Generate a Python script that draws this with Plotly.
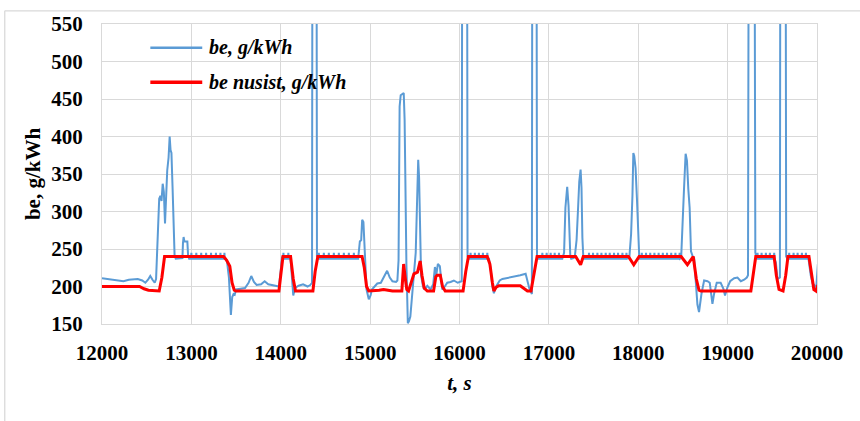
import plotly.graph_objects as go

# Specific fuel consumption over time: measured (be) and target (be nusist)
be_samples = [
    (12000, 211), (12050, 210), (12100, 210), (12150, 209), (12200, 208), (12240, 207),
    (12300, 209), (12350, 210), (12400, 210), (12450, 208), (12485, 205), (12515, 209),
    (12540, 214), (12565, 209), (12590, 205), (12605, 210),
    (12618, 245), (12630, 300), (12640, 317), (12653, 321), (12666, 314), (12679, 337),
    (12692, 326), (12705, 284), (12718, 322), (12730, 355), (12745, 372), (12757, 400),
    (12767, 382), (12777, 378), (12790, 330), (12800, 292), (12812, 242), (12825, 237),
    (12880, 237), (12900, 238), (12906, 258), (12913, 266), (12922, 260), (12955, 260),
    (12963, 242), (12975, 237),
    (12996, 237), (13000, 245), (13004, 237), (13051, 237), (13055, 245), (13059, 237),
    (13106, 237), (13110, 245), (13114, 237), (13161, 237), (13165, 245), (13169, 237),
    (13216, 237), (13220, 245), (13224, 237), (13271, 237), (13275, 245), (13279, 237),
    (13321, 237), (13325, 245), (13329, 237), (13366, 237), (13370, 245), (13374, 237),
    (13385, 237), (13400, 232), (13420, 212), (13442, 162), (13457, 186), (13472, 190),
    (13485, 189), (13500, 196), (13550, 197), (13600, 198), (13640, 205), (13670, 214),
    (13700, 206), (13730, 202), (13780, 203), (13820, 207), (13860, 203), (13900, 202),
    (13950, 201), (13980, 200), (14000, 222), (14015, 240),
    (14026, 237), (14030, 245), (14034, 237), (14081, 237), (14085, 245), (14089, 237),
    (14110, 237), (14125, 205), (14140, 188), (14160, 198), (14200, 201), (14250, 203),
    (14300, 200), (14330, 202), (14350, 205), (14362, 1600), (14392, 1600), (14405, 240),
    (14415, 237),
    (14422, 237), (14426, 245), (14430, 237), (14478, 237), (14482, 245), (14486, 237),
    (14534, 237), (14538, 245), (14542, 237), (14590, 237), (14594, 245), (14598, 237),
    (14646, 237), (14650, 245), (14654, 237), (14702, 237), (14706, 245), (14710, 237),
    (14758, 237), (14762, 245), (14766, 237), (14814, 237), (14818, 245), (14822, 237),
    (14866, 237), (14870, 245), (14874, 237),
    (14885, 260), (14900, 262), (14911, 289), (14925, 286), (14941, 240), (14960, 196),
    (14985, 183), (15005, 188), (15020, 196), (15050, 200), (15080, 204), (15120, 205),
    (15150, 212), (15190, 221), (15220, 212), (15250, 207), (15290, 206), (15305, 208),
    (15318, 235), (15330, 440), (15342, 455), (15360, 457), (15376, 458), (15386, 422),
    (15396, 320), (15406, 230), (15422, 151), (15435, 154), (15450, 160), (15465, 180),
    (15480, 203), (15495, 215), (15510, 245), (15520, 290), (15530, 345), (15538, 369),
    (15548, 345), (15558, 262), (15570, 215), (15590, 201), (15605, 196),
    (15640, 201), (15676, 196), (15706, 203), (15725, 226), (15740, 215), (15758, 230),
    (15780, 227), (15807, 196), (15830, 199), (15863, 205), (15900, 206), (15937, 208),
    (15980, 205), (16012, 207), (16025, 207), (16040, 1600), (16075, 1600), (16090, 240),
    (16100, 237),
    (16120, 237), (16124, 245), (16128, 237), (16168, 237), (16172, 245), (16176, 237),
    (16213, 237), (16217, 245), (16221, 237), (16258, 237), (16262, 245), (16266, 237),
    (16307, 237), (16311, 245), (16315, 237),
    (16330, 237), (16350, 222), (16368, 200), (16385, 191), (16400, 198), (16425, 204),
    (16450, 208), (16480, 210), (16530, 211), (16580, 213), (16630, 214), (16680, 215),
    (16740, 217), (16760, 205), (16780, 198), (16810, 190), (16822, 1600), (16852, 1600),
    (16867, 240), (16880, 237),
    (16923, 237), (16927, 245), (16931, 237), (16971, 237), (16975, 245), (16979, 237),
    (17016, 237), (17020, 245), (17024, 237), (17061, 237), (17065, 245), (17069, 237),
    (17109, 237), (17113, 245), (17117, 237),
    (17150, 237), (17170, 245), (17185, 305), (17205, 333), (17220, 308), (17240, 240),
    (17250, 237), (17280, 238), (17292, 242), (17310, 262), (17325, 300), (17340, 340),
    (17355, 356), (17365, 332), (17375, 265), (17385, 240), (17395, 237),
    (17445, 237), (17449, 245), (17453, 237), (17490, 237), (17494, 245), (17498, 237),
    (17539, 237), (17543, 245), (17547, 237), (17584, 237), (17588, 245), (17592, 237),
    (17632, 237), (17636, 245), (17640, 237), (17677, 237), (17681, 245), (17685, 237),
    (17725, 237), (17729, 245), (17733, 237), (17770, 237), (17774, 245), (17778, 237),
    (17819, 237), (17823, 245), (17827, 237), (17864, 237), (17868, 245), (17872, 237),
    (17900, 238), (17920, 270), (17935, 321), (17945, 378), (17955, 374), (17970, 358),
    (17985, 318), (18000, 258), (18012, 237),
    (18036, 237), (18040, 245), (18044, 237), (18083, 237), (18087, 245), (18091, 237),
    (18130, 237), (18134, 245), (18138, 237), (18177, 237), (18181, 245), (18185, 237),
    (18224, 237), (18228, 245), (18232, 237), (18271, 237), (18275, 245), (18279, 237),
    (18318, 237), (18322, 245), (18326, 237), (18365, 237), (18369, 245), (18373, 237),
    (18412, 237), (18416, 245), (18420, 237), (18459, 237), (18463, 245), (18467, 237),
    (18480, 238), (18495, 292), (18512, 330), (18530, 377), (18545, 368), (18560, 330),
    (18575, 305), (18590, 247), (18610, 240), (18625, 238), (18644, 207), (18662, 176),
    (18680, 166), (18707, 190), (18737, 208), (18775, 207), (18800, 205), (18830, 177),
    (18848, 190), (18878, 205), (18922, 205), (18953, 197), (18971, 188), (18998, 199),
    (19028, 207), (19073, 211), (19110, 212), (19148, 207), (19185, 209), (19215, 212),
    (19228, 215), (19250, 1600), (19285, 1600), (19310, 245), (19320, 240),
    (19331, 237), (19335, 245), (19339, 237), (19376, 237), (19380, 245), (19384, 237),
    (19424, 237), (19428, 245), (19432, 237), (19469, 237), (19473, 245), (19477, 237),
    (19517, 237), (19521, 245), (19525, 237),
    (19540, 232), (19558, 210), (19585, 212), (19598, 1600), (19638, 1600), (19655, 240),
    (19670, 237),
    (19685, 237), (19689, 245), (19693, 237), (19734, 237), (19738, 245), (19742, 237),
    (19779, 237), (19783, 245), (19787, 237), (19827, 237), (19831, 245), (19835, 237),
    (19872, 237), (19876, 245), (19880, 237),
    (19905, 237), (19930, 215), (19951, 204), (19975, 201), (19992, 199), (20010, 230),
]

nusist_samples = [
    (12000, 200), (12100, 200), (12200, 199), (12300, 199), (12360, 200), (12420, 200),
    (12470, 197), (12520, 195), (12640, 194), (12670, 212), (12700, 240), (13360, 240),
    (13395, 235), (13430, 227), (13455, 205), (13480, 195), (13500, 194), (13980, 194),
    (14000, 215), (14025, 240), (14110, 240), (14140, 210), (14165, 194), (14360, 194),
    (14385, 220), (14415, 240), (14910, 240), (14935, 225), (14960, 200), (14985, 194),
    (15100, 195), (15150, 196), (15200, 195), (15250, 194), (15355, 194), (15375, 230),
    (15392, 212), (15410, 196), (15430, 194), (15460, 205), (15490, 217), (15530, 219),
    (15560, 234), (15580, 215), (15605, 198), (15640, 194), (15710, 194), (15735, 213),
    (15750, 215), (15785, 215), (15810, 200), (15840, 194), (16040, 194), (16070, 220),
    (16100, 240), (16310, 240), (16340, 230), (16368, 205), (16385, 194), (16410, 199),
    (16440, 201), (16680, 201), (16720, 197), (16760, 194), (16800, 194), (16835, 220),
    (16868, 240), (17300, 240), (17355, 229), (17385, 240), (17890, 240), (17950, 229),
    (18010, 240), (18480, 240), (18550, 229), (18615, 240), (18650, 210), (18680, 195),
    (18700, 194), (19260, 194), (19290, 220), (19315, 240), (19520, 240), (19545, 215),
    (19575, 196), (19620, 194), (19650, 215), (19675, 240), (19910, 240), (19940, 215),
    (19965, 196), (19990, 194), (20010, 202),
]

x_ticks = [12000, 13000, 14000, 15000, 16000, 17000, 18000, 19000, 20000]
y_ticks = [150, 200, 250, 300, 350, 400, 450, 500, 550]

series_names = ["be, g/kWh", "be nusist, g/kWh"]
series_colors = ["#5b9bd5", "#ff0000"]
series_widths = [2, 3]

t_be, be = zip(*be_samples)
t_nusist, be_nusist = zip(*nusist_samples)

SERIF = "Liberation Serif"
GRID = "#d9d9d9"

fig = go.Figure()
fig.add_trace(go.Scatter(
    x=t_be, y=be, mode="lines", name=series_names[0], showlegend=False,
    line=dict(color=series_colors[0], width=series_widths[0]),
))
fig.add_trace(go.Scatter(
    x=t_nusist, y=be_nusist, mode="lines", name=series_names[1], showlegend=False,
    line=dict(color=series_colors[1], width=series_widths[1]),
))

# Legend drawn by hand: white panel over the grid, line samples and italic labels
shapes = [
    dict(type="rect", xref="paper", yref="paper", x0=0.0326, x1=0.3864, y0=0.734, y1=0.980,
         fillcolor="white", line=dict(width=0), layer="between"),
    # outer chart frame (top and left edges)
    dict(type="line", xref="paper", yref="paper", x0=-0.136, x1=1.3, y0=1.044, y1=1.044,
         line=dict(color=GRID, width=1.3)),
    dict(type="line", xref="paper", yref="paper", x0=-0.136, x1=-0.136, y0=1.044, y1=-0.6,
         line=dict(color=GRID, width=1.3)),
]
annotations = []
for i, (name, color, width) in enumerate(zip(series_names, series_colors, series_widths)):
    yy = [0.921, 0.806][i]
    shapes.append(dict(type="line", xref="paper", yref="paper", x0=0.0676, x1=0.1402,
                       y0=yy, y1=yy, line=dict(color=color, width=width + 0.5)))
    annotations.append(dict(xref="paper", yref="paper", x=0.1473, y=yy, xanchor="left",
                            yanchor="middle", showarrow=False, text=f"<b><i>{name}</i></b>",
                            font=dict(family=SERIF, size=20, color="black")))

fig.update_layout(
    width=860, height=421,
    margin=dict(l=102, r=43, t=19, b=97),
    paper_bgcolor="white", plot_bgcolor="white",
    font=dict(family=SERIF, color="black", size=21),
    showlegend=False,
    xaxis=dict(
        range=[12000, 20000], tickvals=x_ticks,
        ticktext=[f"<b>{v}</b>" for v in x_ticks],
        showgrid=True, gridcolor=GRID, gridwidth=1.3,
        showline=True, linecolor=GRID, linewidth=1.3, mirror=True,
        zeroline=False, ticks="", ticklabelstandoff=10,
        tickfont=dict(family=SERIF, size=21),
        title=dict(text="<b><i>t, s</i></b>", font=dict(family=SERIF, size=21), standoff=10),
    ),
    yaxis=dict(
        range=[150, 550], tickvals=y_ticks,
        ticktext=[f"<b>{v}</b>" for v in y_ticks],
        showgrid=True, gridcolor=GRID, gridwidth=1.3,
        showline=True, linecolor=GRID, linewidth=1.3, mirror=True,
        zeroline=False, ticks="", ticklabelstandoff=14,
        tickfont=dict(family=SERIF, size=21),
        title=dict(text="<b>be, g/kWh</b>", font=dict(family=SERIF, size=21), standoff=4),
    ),
    shapes=shapes,
    annotations=annotations,
)

fig.write_html("out.html")
